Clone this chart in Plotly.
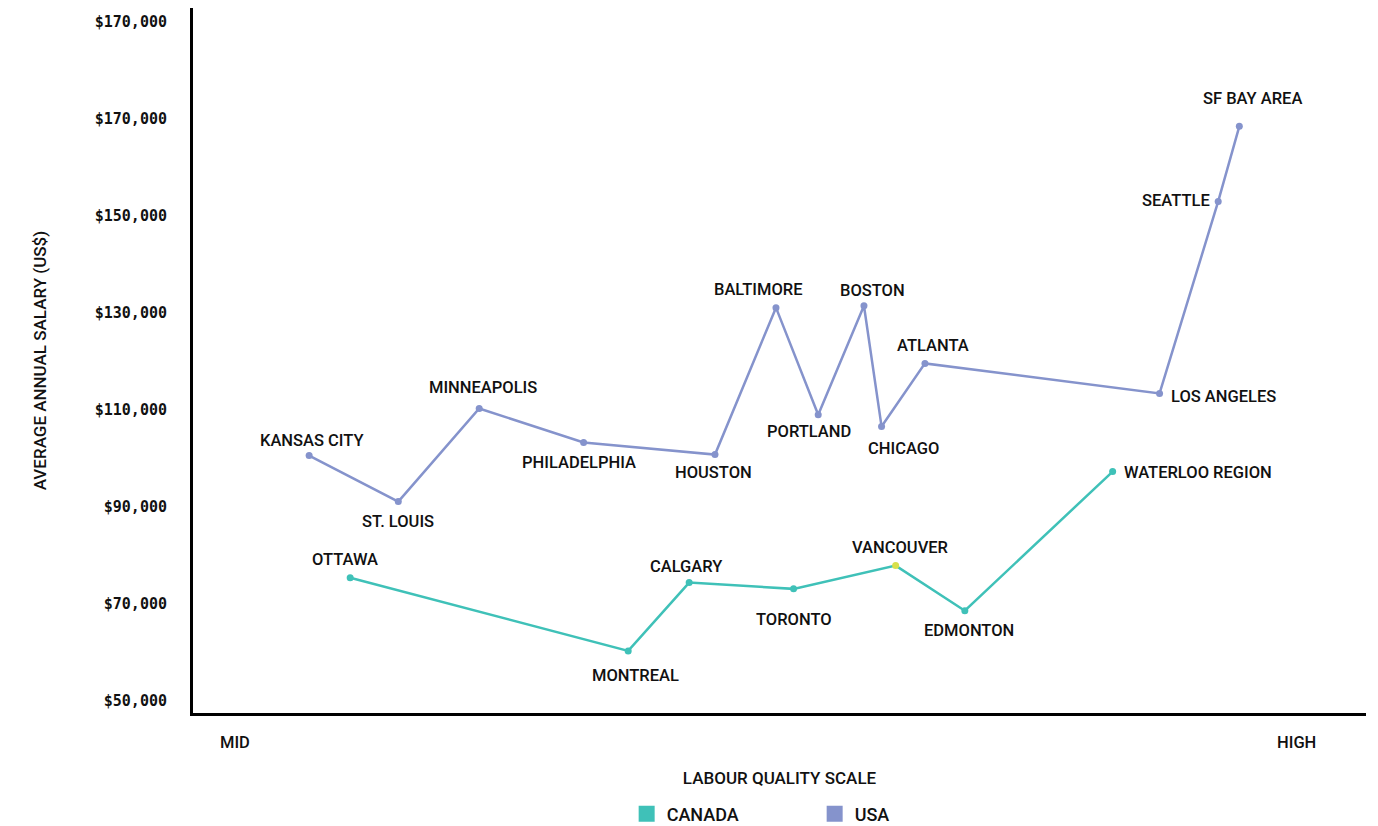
import plotly.graph_objects as go

# ---- data ----
usa_cities = ["KANSAS CITY", "ST. LOUIS", "MINNEAPOLIS", "PHILADELPHIA", "HOUSTON",
              "BALTIMORE", "PORTLAND", "BOSTON", "CHICAGO", "ATLANTA",
              "LOS ANGELES", "SEATTLE", "SF BAY AREA"]
usa_quality = [9.9, 17.5, 24.4, 33.3, 44.5, 49.7, 53.3, 57.2, 58.7, 62.4, 82.4, 87.4, 89.2]
usa_salary = [100600, 91100, 110300, 103300, 100800, 131100, 109000, 131500, 106600,
              119600, 113400, 153000, 168500]

can_cities = ["OTTAWA", "MONTREAL", "CALGARY", "TORONTO", "VANCOUVER", "EDMONTON",
              "WATERLOO REGION"]
can_quality = [13.4, 37.1, 42.3, 51.2, 59.9, 65.8, 78.4]
can_salary = [75400, 60300, 74400, 73100, 77900, 68600, 97300]

y_tickvals = [50000, 70000, 90000, 110000, 130000, 150000, 170000, 190000]
y_ticktext = ["$50,000", "$70,000", "$90,000", "$110,000", "$130,000", "$150,000",
              "$170,000", "$170,000"]
x_tickvals = [3.6, 94.1]
x_ticktext = ["MID", "HIGH"]

# ---- styles ----
USA_COLOR = "#8593CC"
CAN_COLOR = "#3FC1B8"
HIGHLIGHT = "#D8E04B"
TXT = "#111111"
LABEL_FONT = dict(family="Roboto", size=16.5, color=TXT, weight=500)

# label offsets (xshift, yshift) in px
usa_offsets = [(3, 15), (0, -20), (4, 21), (-5, -20), (-1, -18), (-17, 18), (-9, -17),
               (9, 15), (22, -22), (8, 18), (64, -3), (-42, 1), (13, 28)]
can_offsets = [(-5, 18), (7, -25), (-3, 16), (0, -31), (5, 18), (4, -20), (85, -1)]

fig = go.Figure()

fig.add_trace(go.Scatter(x=usa_quality, y=usa_salary, mode="lines+markers",
                         line=dict(color=USA_COLOR, width=2.5),
                         marker=dict(color=USA_COLOR, size=7), showlegend=False,
                         hoverinfo="text", text=usa_cities))
can_marker_colors = [HIGHLIGHT if c == "VANCOUVER" else CAN_COLOR for c in can_cities]
fig.add_trace(go.Scatter(x=can_quality, y=can_salary, mode="lines+markers",
                         line=dict(color=CAN_COLOR, width=2.5),
                         marker=dict(color=can_marker_colors, size=7), showlegend=False,
                         hoverinfo="text", text=can_cities))

# legend-only traces
fig.add_trace(go.Scatter(x=[None], y=[None], mode="markers", name="CANADA",
                         marker=dict(symbol="square", size=17, color=CAN_COLOR)))
fig.add_trace(go.Scatter(x=[None], y=[None], mode="markers", name="USA",
                         marker=dict(symbol="square", size=17, color=USA_COLOR)))

for names, xs, ys, offs in [(usa_cities, usa_quality, usa_salary, usa_offsets),
                            (can_cities, can_quality, can_salary, can_offsets)]:
    for n, x, y, (dx, dy) in zip(names, xs, ys, offs):
        fig.add_annotation(x=x, y=y, text=n, showarrow=False, xshift=dx, yshift=dy,
                           font=LABEL_FONT)

for v, t in zip(x_tickvals, x_ticktext):
    fig.add_annotation(x=v, y=0, yref="paper", yanchor="middle", text=t, showarrow=False,
                       yshift=-29, font=LABEL_FONT)

fig.update_layout(
    width=1378, height=826,
    margin=dict(l=193, r=12, t=8, b=113, autoexpand=False),
    plot_bgcolor="white", paper_bgcolor="white",
    legend=dict(orientation="h", x=0.3697, xanchor="left", y=-0.117, yanchor="top",
                font=dict(family="Roboto", size=18, color=TXT, weight=500),
                itemsizing="trace", itemwidth=30, tracegroupgap=0,
                entrywidth=143),
    xaxis=dict(range=[0, 100], showgrid=False, zeroline=False, showticklabels=False,
               showline=True, linecolor="black", linewidth=3,
               title=dict(text="LABOUR QUALITY SCALE", standoff=58,
                          font=dict(family="Roboto", size=17, color=TXT, weight=500))),
    yaxis=dict(range=[47500, 192900], showgrid=False, zeroline=False,
               tickvals=y_tickvals, ticktext=y_ticktext,
               ticks="outside", ticklen=20, tickcolor="rgba(0,0,0,0)",
               tickfont=dict(family="DejaVu Sans Mono", size=15, color=TXT, weight=700),
               showline=True, linecolor="black", linewidth=3,
               title=dict(text="AVERAGE ANNUAL SALARY (US$)", standoff=44,
                          font=dict(family="Roboto", size=17, color=TXT, weight=500))),
)

fig.write_html("out.html")
